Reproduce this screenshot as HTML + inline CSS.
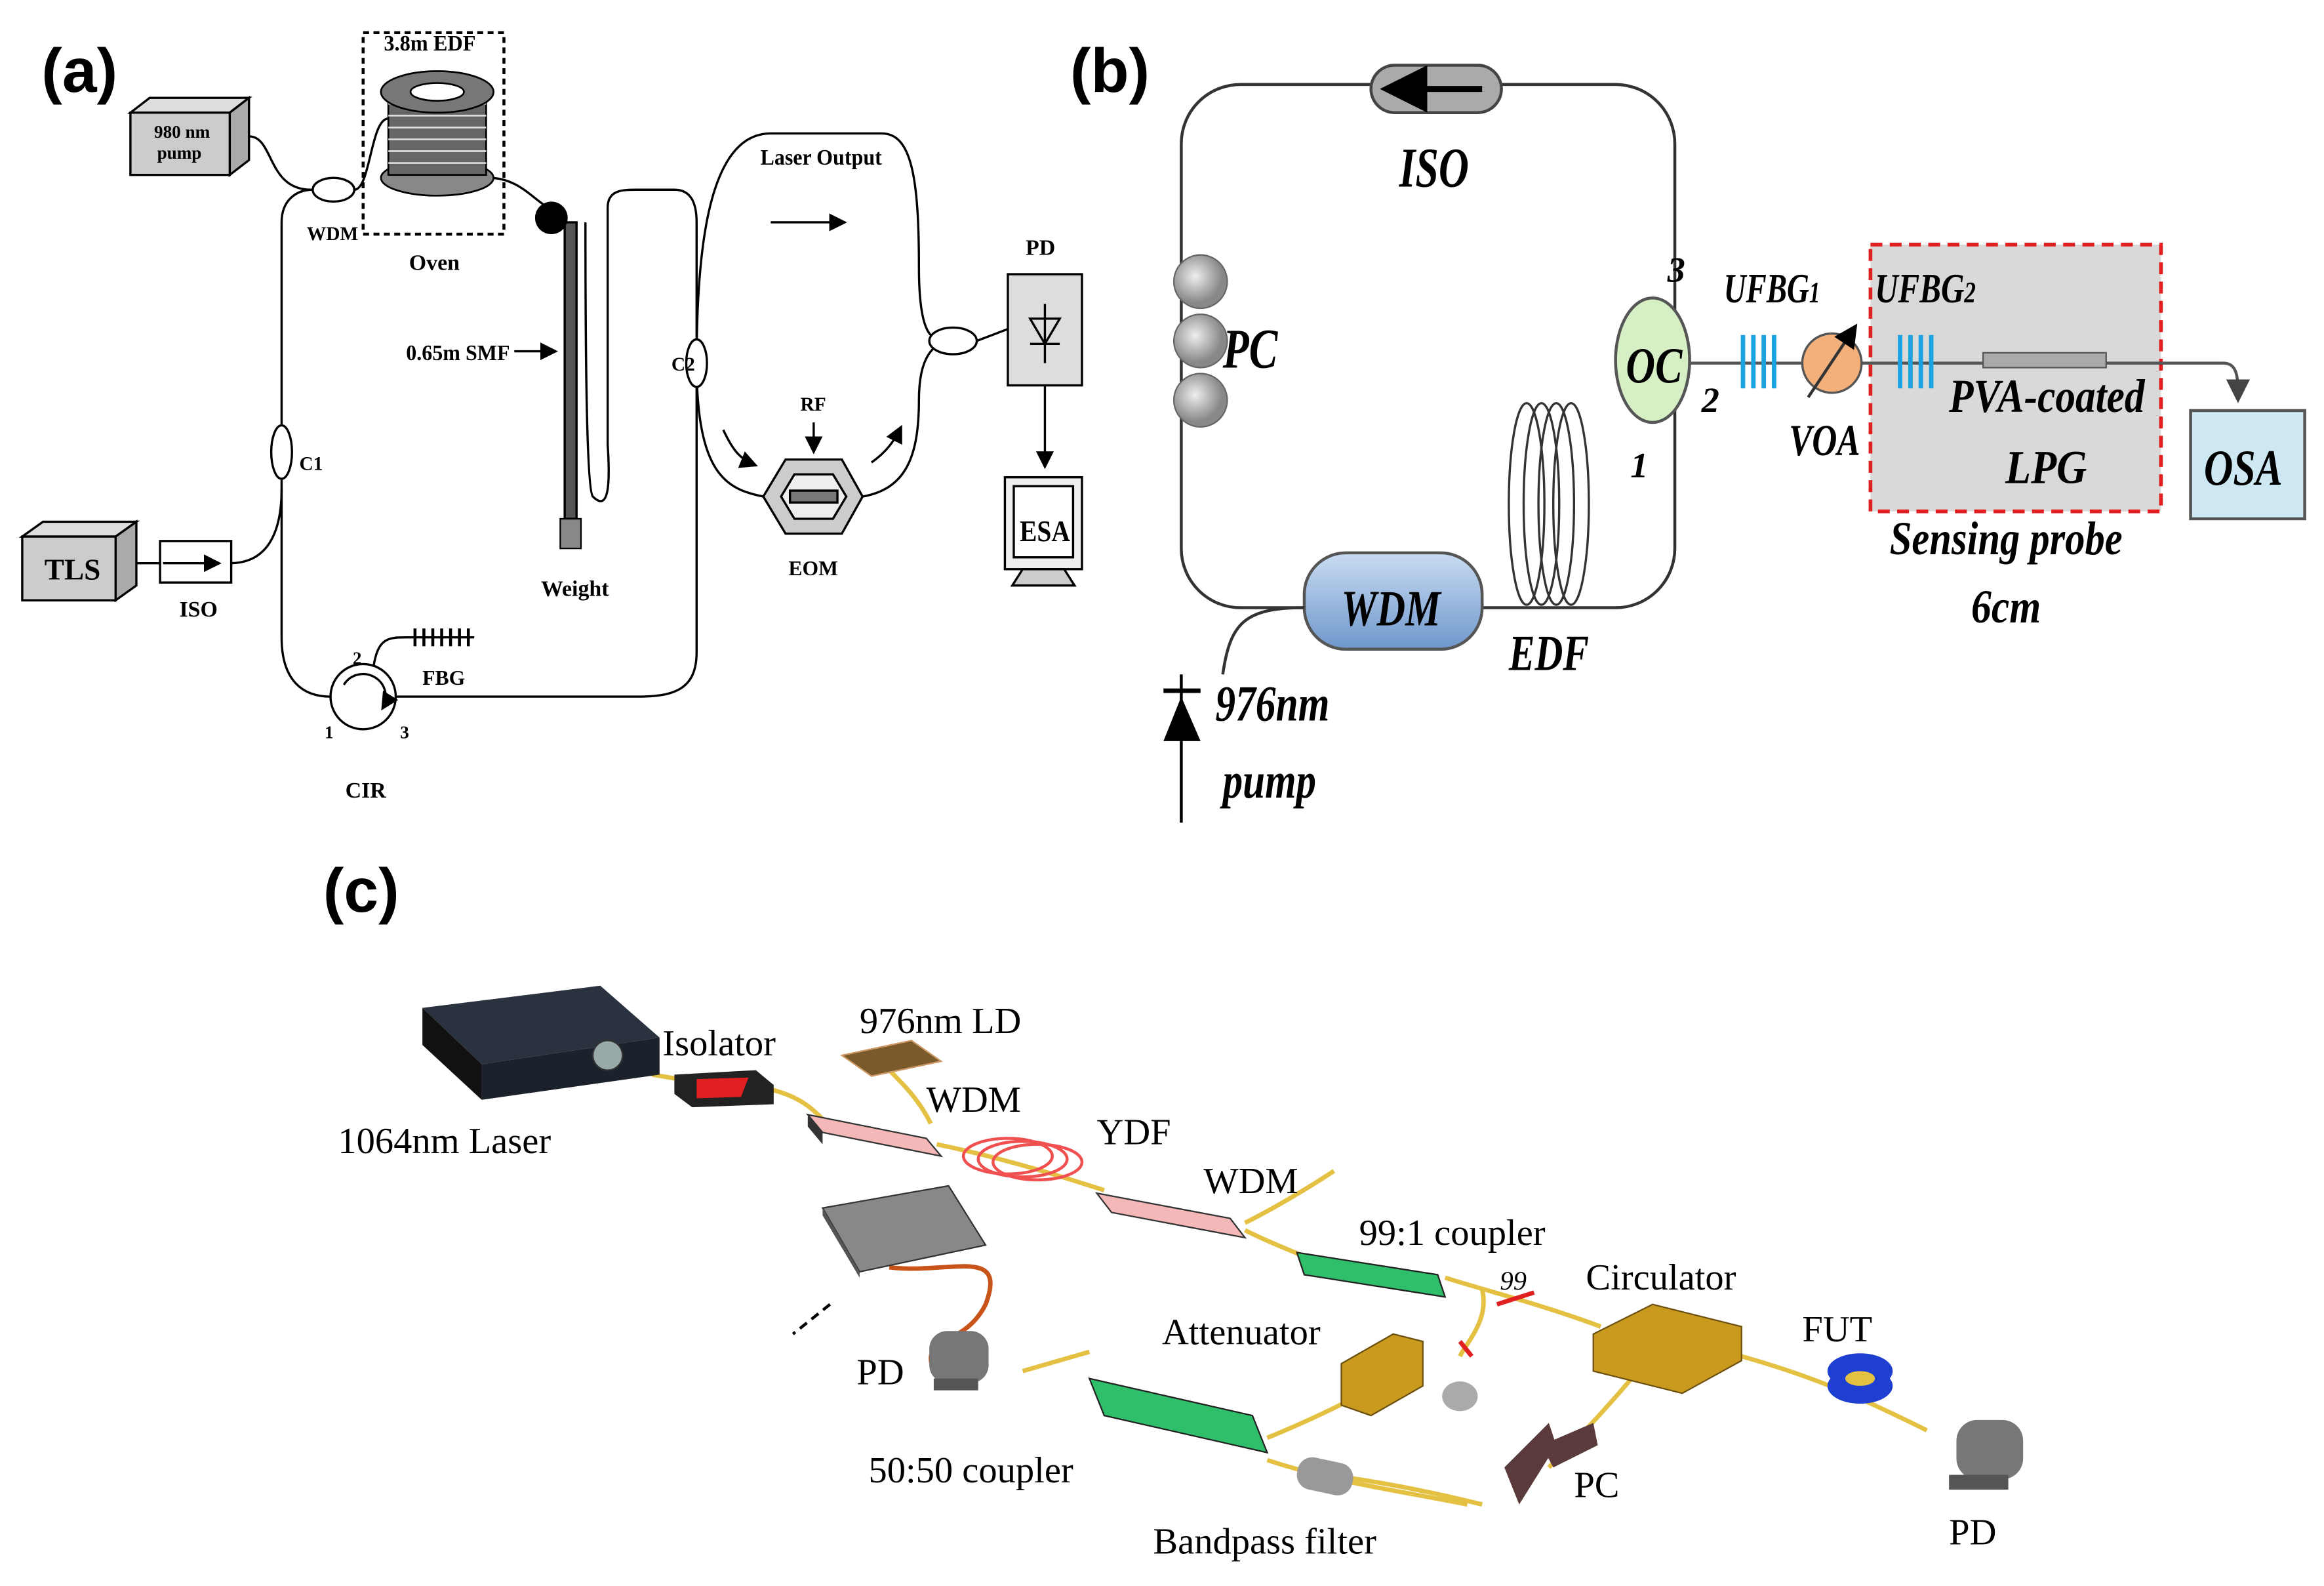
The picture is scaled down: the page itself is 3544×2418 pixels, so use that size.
<!DOCTYPE html>
<html><head><meta charset="utf-8"><style>
html,body{margin:0;padding:0;background:#fff;}
svg{display:block;}
.s{font-family:"Liberation Serif",serif;font-weight:bold;}
.i{font-family:"Liberation Serif",serif;font-weight:bold;font-style:italic;}
.c{font-family:"Liberation Serif",serif;}
.h{font-family:"Liberation Sans",sans-serif;font-weight:bold;}
</style></head><body>
<svg width="3544" height="2418" viewBox="0 0 1568 1070" preserveAspectRatio="none" xmlns="http://www.w3.org/2000/svg">
<defs>
<linearGradient id="wdm" x1="0" y1="0" x2="0" y2="1"><stop offset="0" stop-color="#c8dcf2"/><stop offset="1" stop-color="#6f97cc"/></linearGradient>
<radialGradient id="pcg" cx="0.4" cy="0.4"><stop offset="0" stop-color="#eee"/><stop offset="1" stop-color="#888"/></radialGradient>
<marker id="ar" markerWidth="8" markerHeight="8" refX="7" refY="4" orient="auto"><path d="M0,0 L8,4 L0,8 z" fill="#000"/></marker>
<marker id="ag" markerWidth="8" markerHeight="8" refX="7" refY="4" orient="auto"><path d="M0,0 L8,4 L0,8 z" fill="#444"/></marker>
</defs>
<rect width="1568" height="1070" fill="#fff"/>

<!-- ===== (a) ===== -->
<text x="28" y="62" class="h" font-size="42">(a)</text>
<g fill="none" stroke="#000" stroke-width="1.5">
<polygon points="88,76 155,76 168,66 101,66" fill="#ddd"/>
<polygon points="155,76 168,66 168,108 155,118" fill="#aaa"/>
<rect x="88" y="76" width="67" height="42" fill="#ccc"/>
<path d="M168,92 C185,92 180,128 210,128"/>
<ellipse cx="225" cy="128" rx="14" ry="8" fill="#fff"/>
<path d="M239,128 C250,128 250,80 262,80"/>
<path d="M190,150 C190,135 200,128 211,128"/>
<path d="M190,150 L190,430 C190,460 205,470 223,470"/>
<ellipse cx="190" cy="305" rx="7" ry="18" fill="#fff"/>
<path d="M155,380 C180,380 190,360 190,330"/>
<rect x="245" y="22" width="95" height="136" stroke-dasharray="4,3" stroke-width="2"/>
<path d="M330,120 C350,120 360,135 370,140"/>
<rect x="381" y="150" width="8" height="200" fill="#555"/>
<path d="M395,150 C395,200 395,330 400,335 C410,345 412,330 410,300 L410,140 C410,128 420,128 430,128 L455,128 C465,128 470,135 470,150 L470,440 C470,465 455,470 430,470 L267,470"/>
<path d="M470,245 C470,160 480,90 520,90 L595,90 C615,90 620,120 620,180 C620,230 630,230 640,230"/>
<path d="M470,245 C470,320 490,330 515,335"/>
<path d="M582,335 C610,330 620,310 620,270 C620,240 630,232 640,230"/>
<ellipse cx="470" cy="245" rx="7" ry="16" fill="#fff"/>
<ellipse cx="643" cy="230" rx="16" ry="9" fill="#fff"/>
<path d="M659,230 L680,222"/>
<circle cx="245" cy="470" r="22" fill="#fff"/>
<path d="M232,462 A14,14 0 1,1 258,478" marker-end="url(#ar)"/>
<path d="M252,450 C255,430 262,430 275,430 L320,430"/>
</g>
<circle cx="372" cy="147" r="11" fill="#000"/>
<rect x="378" y="350" width="14" height="20" fill="#888" stroke="#000"/>
<g stroke="#000" stroke-width="2">
<line x1="280" y1="424" x2="280" y2="436"/><line x1="286" y1="424" x2="286" y2="436"/><line x1="292" y1="424" x2="292" y2="436"/><line x1="298" y1="424" x2="298" y2="436"/><line x1="304" y1="424" x2="304" y2="436"/><line x1="310" y1="424" x2="310" y2="436"/><line x1="316" y1="424" x2="316" y2="436"/>
</g>
<g stroke="#000" stroke-width="1.2" fill="#888">
<ellipse cx="295" cy="120" rx="38" ry="12"/>
<rect x="262" y="62" width="66" height="56" fill="#666"/>
<g fill="none" stroke="#ddd"><path d="M262,70 h66 M262,78 h66 M262,86 h66 M262,94 h66 M262,102 h66 M262,110 h66"/></g>
<ellipse cx="295" cy="62" rx="38" ry="14" fill="#777"/>
<ellipse cx="295" cy="62" rx="18" ry="6" fill="#fff"/>
</g>
<g stroke="#000" stroke-width="1.5">
<polygon points="15,362 78,362 92,352 29,352" fill="#ddd"/>
<polygon points="78,362 92,352 92,395 78,405" fill="#aaa"/>
<rect x="15" y="362" width="63" height="43" fill="#ccc"/>
<rect x="108" y="365" width="48" height="28" fill="#fff"/>
<line x1="92" y1="380" x2="108" y2="380"/>
<line x1="110" y1="380" x2="148" y2="380" marker-end="url(#ar)"/>
</g>
<g stroke="#000" stroke-width="1.5">
<polygon points="515,335 530,310 568,310 582,335 568,360 530,360" fill="#ccc"/>
<polygon points="527,335 536,320 562,320 571,335 562,350 536,350" fill="#eee"/>
<rect x="533" y="331" width="32" height="8" fill="#777"/>
<line x1="549" y1="285" x2="549" y2="305" marker-end="url(#ar)"/>
<path d="M488,290 C495,305 500,310 510,314" fill="none" marker-end="url(#ar)"/>
<path d="M588,312 C598,305 603,298 608,288" fill="none" marker-end="url(#ar)"/>
<line x1="520" y1="150" x2="570" y2="150" marker-end="url(#ar)"/>
<line x1="347" y1="237" x2="375" y2="237" marker-end="url(#ar)"/>
</g>
<g stroke="#000" stroke-width="1.5">
<rect x="680" y="185" width="50" height="75" fill="#ddd"/>
<polygon points="695,215 715,215 705,232" fill="none"/>
<line x1="695" y1="232" x2="715" y2="232"/>
<line x1="705" y1="205" x2="705" y2="245"/>
<line x1="705" y1="260" x2="705" y2="315" marker-end="url(#ar)"/>
<rect x="678" y="322" width="52" height="62" fill="#eee"/>
<rect x="684" y="328" width="40" height="48" fill="#fff"/>
<polygon points="690,384 718,384 725,395 683,395" fill="#ccc"/>
</g>
<g class="s" font-size="15">
<text x="259" y="34" textLength="62" lengthAdjust="spacingAndGlyphs">3.8m EDF</text>
<text x="104" y="93" font-size="12">980 nm</text><text x="106" y="107" font-size="12">pump</text>
<text x="207" y="162" font-size="13">WDM</text>
<text x="276" y="182">Oven</text>
<text x="274" y="243" textLength="70" lengthAdjust="spacingAndGlyphs">0.65m SMF</text>
<text x="513" y="111" textLength="82" lengthAdjust="spacingAndGlyphs">Laser Output</text>
<text x="692" y="172">PD</text>
<text x="453" y="250" font-size="13">C2</text>
<text x="202" y="317" font-size="13">C1</text>
<text x="540" y="277" font-size="13">RF</text>
<text x="532" y="388" font-size="14">EOM</text>
<text x="365" y="402">Weight</text>
<text x="285" y="462" font-size="14">FBG</text>
<text x="238" y="448" font-size="12">2</text>
<text x="219" y="498" font-size="12">1</text>
<text x="270" y="498" font-size="12">3</text>
<text x="233" y="538">CIR</text>
<text x="121" y="416">ISO</text>
<text x="30" y="391" font-size="20">TLS</text>
<text x="688" y="365" font-size="20" textLength="34" lengthAdjust="spacingAndGlyphs">ESA</text>
</g>

<!-- ===== (b) ===== -->
<text x="722" y="62" class="h" font-size="42">(b)</text>
<rect x="797" y="57" width="333" height="353" rx="40" fill="none" stroke="#333" stroke-width="2"/>
<rect x="925" y="44" width="88" height="32" rx="16" fill="#aaa" stroke="#444" stroke-width="2"/>
<line x1="1000" y1="60" x2="935" y2="60" stroke="#000" stroke-width="4" marker-end="url(#ar)"/>
<circle cx="810" cy="190" r="18" fill="url(#pcg)" stroke="#666"/>
<circle cx="810" cy="230" r="18" fill="url(#pcg)" stroke="#666"/>
<circle cx="810" cy="270" r="18" fill="url(#pcg)" stroke="#666"/>
<ellipse cx="1115" cy="243" rx="25" ry="42" fill="#d6efc4" stroke="#555" stroke-width="2"/>
<g fill="none" stroke="#333" stroke-width="1.5">
<ellipse cx="1030" cy="340" rx="12" ry="68"/><ellipse cx="1040" cy="340" rx="12" ry="68"/><ellipse cx="1050" cy="340" rx="12" ry="68"/><ellipse cx="1060" cy="340" rx="12" ry="68"/>
</g>
<rect x="1262" y="165" width="196" height="180" fill="#d9d9d9" stroke="#e02020" stroke-width="2.5" stroke-dasharray="8,5"/>
<path d="M1140,245 L1500,245 C1510,245 1510,255 1510,270" fill="none" stroke="#555" stroke-width="2" marker-end="url(#ag)"/>
<g stroke="#1aa3e0" stroke-width="3">
<line x1="1176" y1="226" x2="1176" y2="262"/><line x1="1183" y1="226" x2="1183" y2="262"/><line x1="1190" y1="226" x2="1190" y2="262"/><line x1="1197" y1="226" x2="1197" y2="262"/>
<line x1="1282" y1="226" x2="1282" y2="262"/><line x1="1289" y1="226" x2="1289" y2="262"/><line x1="1296" y1="226" x2="1296" y2="262"/><line x1="1303" y1="226" x2="1303" y2="262"/>
</g>
<circle cx="1236" cy="245" r="20" fill="#f4b07a" stroke="#555" stroke-width="1.5"/>
<line x1="1220" y1="268" x2="1252" y2="220" stroke="#333" stroke-width="2" marker-end="url(#ar)"/>
<rect x="1338" y="238" width="83" height="10" fill="#aaa" stroke="#555"/>
<rect x="1478" y="277" width="77" height="73" fill="#cde8f2" stroke="#555" stroke-width="2"/>
<rect x="880" y="373" width="120" height="65" rx="28" fill="url(#wdm)" stroke="#555" stroke-width="2"/>
<path d="M880,410 C840,410 830,420 825,455" fill="none" stroke="#333" stroke-width="2"/>
<polygon points="785,500 810,500 797,470" fill="#000"/>
<line x1="785" y1="466" x2="810" y2="466" stroke="#000" stroke-width="3"/>
<line x1="797" y1="455" x2="797" y2="555" stroke="#000" stroke-width="2"/>
<g class="i" lengthAdjust="spacingAndGlyphs">
<text x="944" y="126" font-size="38" textLength="47" lengthAdjust="spacingAndGlyphs">ISO</text>
<text x="825" y="248" font-size="38" textLength="37" lengthAdjust="spacingAndGlyphs">PC</text>
<text x="1097" y="258" font-size="34" textLength="38" lengthAdjust="spacingAndGlyphs">OC</text>
<text x="1125" y="190" font-size="24">3</text>
<text x="1148" y="278" font-size="24">2</text>
<text x="1100" y="322" font-size="24">1</text>
<text x="1163" y="204" font-size="28" textLength="65" lengthAdjust="spacingAndGlyphs">UFBG<tspan font-size="20">1</tspan></text>
<text x="1265" y="204" font-size="28" textLength="68" lengthAdjust="spacingAndGlyphs">UFBG<tspan font-size="20">2</tspan></text>
<text x="1207" y="307" font-size="30" textLength="48" lengthAdjust="spacingAndGlyphs">VOA</text>
<text x="1315" y="278" font-size="32" textLength="132" lengthAdjust="spacingAndGlyphs">PVA-coated</text>
<text x="1353" y="326" font-size="32" textLength="55" lengthAdjust="spacingAndGlyphs">LPG</text>
<text x="1275" y="374" font-size="32" textLength="157" lengthAdjust="spacingAndGlyphs">Sensing probe</text>
<text x="1330" y="420" font-size="32" textLength="47" lengthAdjust="spacingAndGlyphs">6cm</text>
<text x="1487" y="327" font-size="34" textLength="53" lengthAdjust="spacingAndGlyphs">OSA</text>
<text x="905" y="422" font-size="34" textLength="67" lengthAdjust="spacingAndGlyphs">WDM</text>
<text x="1018" y="452" font-size="34" textLength="54" lengthAdjust="spacingAndGlyphs">EDF</text>
<text x="820" y="486" font-size="34" textLength="77" lengthAdjust="spacingAndGlyphs">976nm</text>
<text x="825" y="538" font-size="34" textLength="63" lengthAdjust="spacingAndGlyphs">pump</text>
</g>

<!-- ===== (c) ===== -->
<text x="218" y="615" class="h" font-size="42">(c)</text>
<g fill="none" stroke="#e4c043" stroke-width="3">
<path d="M440,725 L458,728"/>
<path d="M520,735 C540,740 548,748 555,755"/>
<path d="M632,772 C680,782 720,795 745,803"/>
<path d="M600,722 C610,732 620,742 628,758"/>
<path d="M840,830 C860,840 875,845 885,850"/>
<path d="M840,825 C860,815 885,800 900,790"/>
<path d="M975,862 C1000,870 1040,880 1080,895"/>
<path d="M1000,870 C1005,890 990,905 985,915"/>
<path d="M1175,915 C1210,925 1240,935 1300,965"/>
<path d="M1105,925 C1080,955 1060,975 1045,990"/>
<path d="M1000,1015 C960,1005 930,1000 910,997"/>
<path d="M855,970 C880,960 900,950 910,945"/>
<path d="M735,912 L690,925"/>
<path d="M855,985 C900,1000 940,1005 990,1015"/>
</g>
<path d="M600,855 C640,860 680,840 665,880 C650,910 620,900 630,925" fill="none" stroke="#c9541a" stroke-width="3"/>
<line x1="560" y1="880" x2="535" y2="900" stroke="#000" stroke-width="2" stroke-dasharray="6,4"/>
<g fill="none" stroke="#f05050" stroke-width="2">
<ellipse cx="680" cy="780" rx="30" ry="12"/><ellipse cx="690" cy="782" rx="30" ry="12"/><ellipse cx="700" cy="784" rx="30" ry="12"/>
</g>
<polygon points="285,680 405,665 445,700 325,718" fill="#2a3240"/>
<polygon points="285,680 325,718 325,742 285,705" fill="#111"/>
<polygon points="325,718 445,700 445,725 325,742" fill="#1c222c"/>
<circle cx="410" cy="712" r="10" fill="#9aa" stroke="#333"/>
<polygon points="455,725 510,722 522,732 522,745 467,747 455,738" fill="#222"/>
<polygon points="470,728 505,727 500,740 470,741" fill="#e02020"/>
<polygon points="568,712 615,702 635,716 588,726" fill="#7a5a2a" stroke="#c96"/>
<polygon points="545,752 625,768 635,780 555,764" fill="#f5b8b8" stroke="#333"/>
<polygon points="545,752 555,764 555,772 545,760" fill="#333"/>
<polygon points="740,805 830,822 840,835 750,818" fill="#f5b8b8" stroke="#333"/>
<polygon points="555,815 640,800 665,840 580,858" fill="#888" stroke="#333"/>
<polygon points="555,815 580,858 580,862 555,820" fill="#555"/>
<polygon points="875,845 970,860 975,875 880,860" fill="#2fbf6a" stroke="#222"/>
<polygon points="735,930 845,955 855,980 745,955" fill="#2fbf6a" stroke="#222"/>
<polygon points="905,920 940,900 960,905 960,935 925,955 905,948" fill="#c99a1e" stroke="#6b5010"/>
<ellipse cx="985" cy="942" rx="12" ry="10" fill="#aaa"/>
<polygon points="1075,900 1115,880 1175,895 1175,918 1135,940 1075,925" fill="#c99a1e" stroke="#6b5010"/>
<rect x="627" y="898" width="40" height="35" rx="12" fill="#777"/>
<rect x="630" y="930" width="30" height="8" fill="#555"/>
<rect x="875" y="985" width="38" height="22" rx="10" fill="#999" transform="rotate(12 894 996)"/>
<polygon points="1015,990 1045,960 1050,975 1025,1015" fill="#5a3a3a"/>
<polygon points="1040,975 1075,960 1078,975 1048,990" fill="#5a3a3a"/>
<ellipse cx="1255" cy="925" rx="22" ry="12" fill="#1f3fd0"/>
<ellipse cx="1255" cy="935" rx="22" ry="12" fill="#1f3fd0"/>
<ellipse cx="1255" cy="930" rx="10" ry="5" fill="#e4c043"/>
<rect x="1320" y="958" width="45" height="40" rx="14" fill="#777"/>
<rect x="1315" y="995" width="40" height="10" fill="#555"/>
<line x1="1010" y1="880" x2="1035" y2="872" stroke="#e02020" stroke-width="3"/>
<line x1="985" y1="905" x2="993" y2="915" stroke="#e02020" stroke-width="3"/>
<g class="c" font-size="25">
<text x="447" y="712">Isolator</text>
<text x="580" y="697">976nm LD</text>
<text x="228" y="778">1064nm Laser</text>
<text x="625" y="750">WDM</text>
<text x="740" y="772">YDF</text>
<text x="812" y="805">WDM</text>
<text x="917" y="840">99:1 coupler</text>
<text x="1012" y="870" font-size="18" font-style="italic">99</text>
<text x="1070" y="870">Circulator</text>
<text x="784" y="907">Attenuator</text>
<text x="1216" y="905">FUT</text>
<text x="578" y="934">PD</text>
<text x="586" y="1000">50:50 coupler</text>
<text x="1062" y="1010">PC</text>
<text x="778" y="1048">Bandpass filter</text>
<text x="1315" y="1042">PD</text>
</g>
</svg>
</body></html>
